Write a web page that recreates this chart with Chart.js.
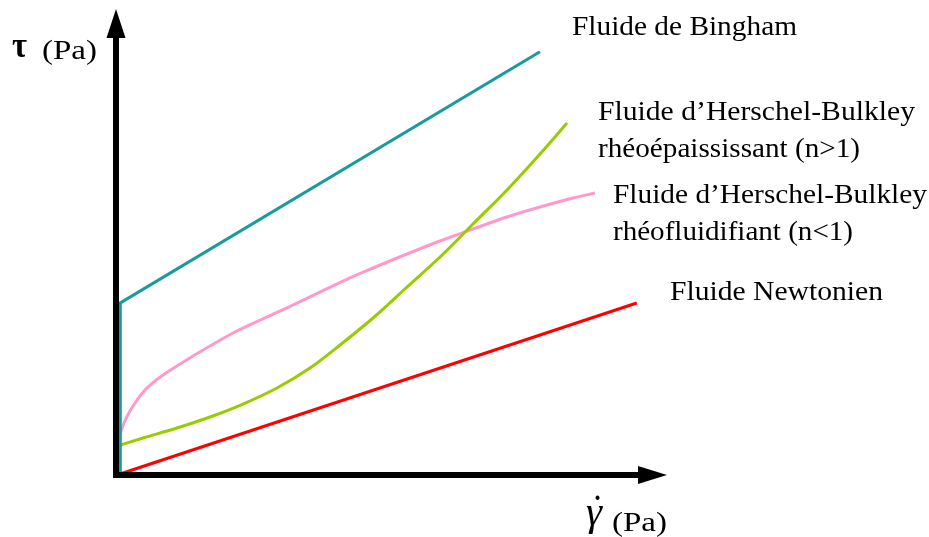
<!DOCTYPE html>
<html>
<head>
<meta charset="utf-8">
<script src="https://cdn.jsdelivr.net/npm/chart.js@4"></script>
<style>
  html, body { margin: 0; padding: 0; background: #fff; }
  canvas { display: block; }
</style>
</head>
<body>
<canvas id="myChart" width="929" height="537"></canvas>
<script>
// shear rate / shear stress, arbitrary units (0..100)
const newtonX = [0, 94.5];
const newtonY = [0, 37.4];

const binghamX = [0.6, 0.6, 76.9];
const binghamY = [0, 37.4, 92.0];

const thickX = [0, 4.73, 10.91, 16.91, 22.91, 29.09, 35.09, 40.55, 46.55, 52.73, 58.73, 64.73, 70.91, 76.91, 81.82];
const thickY = [6.3, 8.04, 10.22, 12.61, 15.43, 18.91, 23.26, 28.26, 34.13, 40.87, 47.39, 54.57, 61.96, 69.78, 76.52];

const thinX = [0, 0.55, 1.27, 2.36, 3.64, 5.09, 6.91, 8.91, 10.91, 13.82, 16.91, 21.09, 29.09, 35.09, 41.09, 46.55, 52.73, 58.73, 64.73, 70.91, 76.91, 82.91, 86.91];
const thinY = [6.74, 8.91, 11.3, 13.91, 16.3, 18.48, 20.43, 22.17, 23.7, 25.87, 28.04, 30.87, 35.33, 38.7, 42.17, 45.0, 48.04, 50.87, 53.48, 56.09, 58.26, 60.22, 61.3];

const seriesNames = [
  "Fluide de Bingham",
  "Fluide d’Herschel-Bulkley rhéoépaississant (n>1)",
  "Fluide d’Herschel-Bulkley rhéofluidifiant (n<1)",
  "Fluide Newtonien",
];
const yAxisTitle = ["τ", "(Pa)"];
const xAxisTitle = ["γ", "˙", "(Pa)"];

function pts(xs, ys) {
  return xs.map((x, i) => ({ x: x, y: ys[i] }));
}

// draw a text squeezed/stretched to a given width
function fitText(ctx, text, left, base, width, font) {
  ctx.font = font;
  const w = ctx.measureText(text).width;
  ctx.save();
  ctx.translate(left, base);
  ctx.scale(width / w, 1);
  ctx.fillText(text, 0, 0);
  ctx.restore();
}

const sketch = {
  id: "sketch",
  afterDatasetsDraw(chart) {
    const ctx = chart.ctx;
    const area = chart.chartArea;
    const x0 = chart.scales.x.getPixelForValue(0) - 1;
    const y0 = chart.scales.y.getPixelForValue(0);
    const top = area.top - 6;
    const right = area.right;

    ctx.save();
    ctx.strokeStyle = "#000";
    ctx.fillStyle = "#000";
    ctx.lineWidth = 6;
    ctx.beginPath();
    ctx.moveTo(x0, y0 + 3);
    ctx.lineTo(x0, top + 25);
    ctx.moveTo(x0 - 3, y0);
    ctx.lineTo(right - 25, y0);
    ctx.stroke();

    // arrow heads
    ctx.beginPath();
    ctx.moveTo(x0, top);
    ctx.lineTo(x0 - 9.5, top + 29);
    ctx.lineTo(x0 + 9.5, top + 29);
    ctx.closePath();
    ctx.fill();
    ctx.beginPath();
    ctx.moveTo(right, y0);
    ctx.lineTo(right - 29, y0 - 9);
    ctx.lineTo(right - 29, y0 + 9);
    ctx.closePath();
    ctx.fill();

    // texts
    const serif = '"Liberation Serif", "DejaVu Serif", serif';
    ctx.textBaseline = "alphabetic";
    fitText(ctx, yAxisTitle[0], 12, 57, 15, "bold 36px " + serif);
    fitText(ctx, yAxisTitle[1], 42, 59, 55, "27px " + serif);
    fitText(ctx, xAxisTitle[0], 586, 525, 16, "italic 40px " + serif);
    fitText(ctx, xAxisTitle[1], 593, 516, 9, "bold 30px " + serif);
    fitText(ctx, xAxisTitle[2], 612, 531, 55, "27px " + serif);

    const f = "27px " + serif;
    fitText(ctx, seriesNames[0], 572, 35, 225, f);
    fitText(ctx, "Fluide d’Herschel-Bulkley", 598, 120, 317, f);
    fitText(ctx, "rhéoépaississant (n>1)", 598, 157, 262, f);
    fitText(ctx, "Fluide d’Herschel-Bulkley", 613, 203, 314, f);
    fitText(ctx, "rhéofluidifiant (n<1)", 613, 240, 240, f);
    fitText(ctx, seriesNames[3], 670, 300, 213, f);
    ctx.restore();
  },
};

const ctx = document.getElementById("myChart").getContext("2d");

const myChart = new Chart(ctx, {
  type: "line",
  data: {
    datasets: [
      {
        label: seriesNames[0],
        data: pts(binghamX, binghamY),
        borderColor: "#189a9e",
        borderWidth: 3,
        tension: 0,
      },
      {
        label: seriesNames[1],
        data: pts(thickX, thickY),
        borderColor: "#99cc00",
        borderWidth: 3,
        cubicInterpolationMode: "monotone",
      },
      {
        label: seriesNames[2],
        data: pts(thinX, thinY),
        borderColor: "#ff99cc",
        borderWidth: 3,
        cubicInterpolationMode: "monotone",
      },
      {
        label: seriesNames[3],
        data: pts(newtonX, newtonY),
        borderColor: "#ff0000",
        borderWidth: 3,
        tension: 0,
      },
    ],
  },
  options: {
    responsive: false,
    animation: false,
    devicePixelRatio: 1,
    layout: {
      padding: { left: 117, right: 262, top: 15, bottom: 62 },
    },
    elements: {
      point: { radius: 0 },
      line: { fill: false },
    },
    datasets: {
      line: { clip: false },
    },
    scales: {
      x: { type: "linear", min: 0, max: 100, display: false },
      y: { type: "linear", min: 0, max: 100, display: false },
    },
    plugins: {
      legend: { display: false },
      tooltip: { enabled: false },
    },
  },
  plugins: [sketch],
});
</script>
</body>
</html>
